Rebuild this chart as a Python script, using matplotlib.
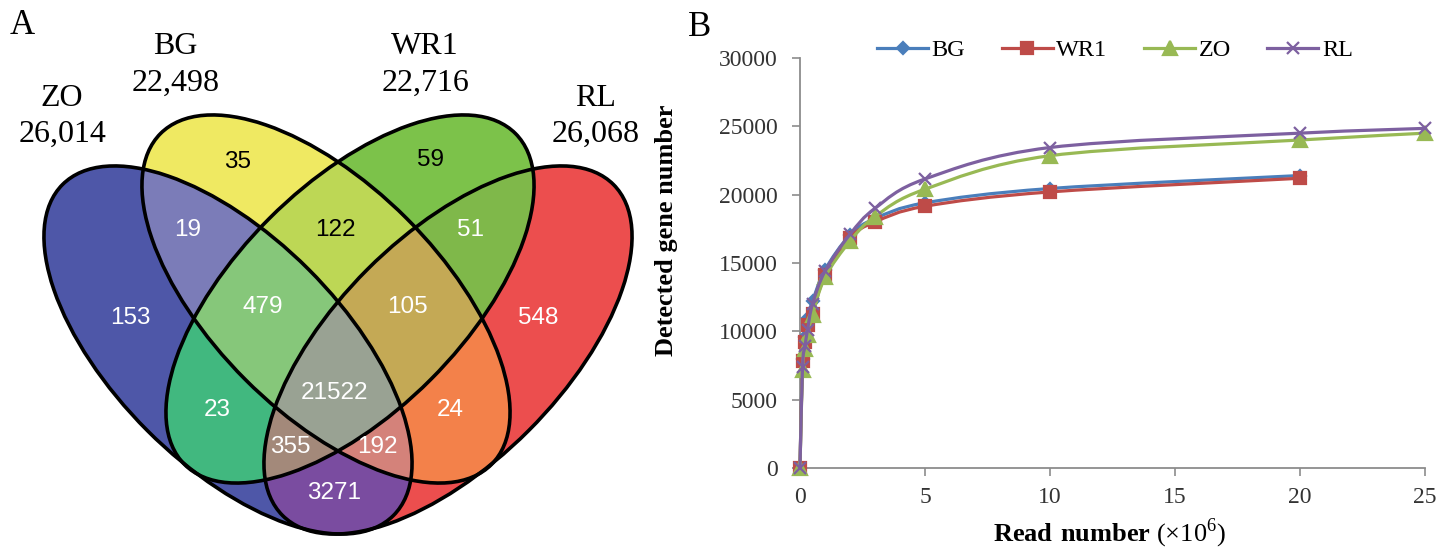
import numpy as np
import matplotlib
matplotlib.use("Agg")
import matplotlib.pyplot as plt
from matplotlib.patches import Ellipse, PathPatch
from matplotlib.path import Path
from matplotlib.lines import Line2D

plt.rcParams["mathtext.fontset"] = "custom"
plt.rcParams["mathtext.rm"] = "Liberation Serif"
plt.rcParams["mathtext.bf"] = "Liberation Serif:bold"

# ---- panel A data (Venn) ----
set_names = ["ZO", "BG", "WR1", "RL"]
set_totals = [26014, 22498, 22716, 26068]
region_sets = ["ZO", "BG", "WR1", "RL",
               "ZO+BG", "BG+WR1", "WR1+RL",
               "ZO+BG+WR1", "BG+WR1+RL", "ZO+WR1", "BG+RL",
               "ZO+BG+WR1+RL", "ZO+WR1+RL", "ZO+BG+RL", "ZO+RL"]
region_counts = [153, 35, 59, 548, 19, 122, 51, 479, 105, 23, 24, 21522, 355, 192, 3271]

# ---- panel B data (saturation curves) ----
reads_short = [0, 0.1, 0.2, 0.3, 0.5, 1, 2, 3, 5, 10, 20]
reads_long = [0, 0.1, 0.2, 0.3, 0.5, 1, 2, 3, 5, 10, 20, 25]
bg_genes = [0, 8000, 9600, 11000, 12200, 14500, 17050, 18250, 19400, 20450, 21400]
wr1_genes = [0, 7800, 9200, 10450, 11300, 14100, 16850, 18000, 19150, 20200, 21200]
zo_genes = [0, 7200, 8700, 9700, 11200, 13950, 16600, 18400, 20400, 22850, 24000, 24500]
rl_genes = [0, 7400, 8900, 10100, 12000, 14400, 17100, 19000, 21150, 23450, 24500, 24850]

# ---- styles ----
bits = {"ZO": 1, "BG": 2, "WR1": 4, "RL": 8}
region_colors = ["#4E57A8", "#EFEA62", "#7CC24A", "#EC4F4F",
                 "#7B7CB9", "#BDD855", "#7FB94A",
                 "#86C77A", "#C4A955", "#41B97F", "#F3814A",
                 "#9AA293", "#A38A7A", "#D5827A", "#7A4DA0"]
region_text = ["white", "black", "black", "white", "white", "black", "white",
               "white", "white", "white", "white", "white", "white", "white", "white"]
region_pos = [(130, 318), (238, 162), (430, 160), (538, 318),
              (188, 230), (335, 230), (470, 230),
              (263, 307), (407, 307), (217, 410), (450, 410),
              (334, 393), (290, 447), (377, 447), (334, 493)]
# ellipse centre x, centre y, angle (pixel layout of panel A)
ell = [(228, 350, 45), (326, 299, 45), (350, 299, 135), (448, 350, 135)]
ea, eb = 234, 114
name_pos = [(62, 98), (175, 47), (425, 47), (595, 98)]

fig = plt.figure(figsize=(14.55, 5.5), dpi=100)

# ---------------- panel A ----------------
axA = fig.add_axes([0, 0, 700 / 1455, 1])
xs = np.linspace(0, 700, 1400)
ys = np.linspace(0, 550, 1100)
X, Y = np.meshgrid(xs, ys)
code = np.zeros(X.shape, dtype=int)
for i, (cx, cy, ang) in enumerate(ell):
    t = np.deg2rad(ang)
    dx, dy = X - cx, Y - cy
    u = dx * np.cos(t) + dy * np.sin(t)
    v = -dx * np.sin(t) + dy * np.cos(t)
    code |= (((u / ea) ** 2 + (v / eb) ** 2) <= 1).astype(int) << i

lut = np.zeros((16, 4))
for name, col in zip(region_sets, region_colors):
    c = sum(bits[s] for s in name.split("+"))
    lut[c] = matplotlib.colors.to_rgba(col)
img = lut[code]
axA.imshow(img, extent=(0, 700, 550, 0), interpolation="antialiased")
for cx, cy, ang in ell:
    axA.add_patch(Ellipse((cx, cy), 2 * ea, 2 * eb, angle=ang, fill=False,
                          ec="black", lw=2.6))
for n, pos, col in zip(region_counts, region_pos, region_text):
    axA.text(pos[0], pos[1], str(n), ha="center", va="center", color=col,
             fontsize=17.5, family="Liberation Sans")
for name, tot, pos in zip(set_names, set_totals, name_pos):
    axA.text(pos[0], pos[1], name, ha="center", va="center",
             fontsize=23, family="Liberation Serif")
    axA.text(pos[0] + 1, pos[1] + 36, f"{tot:,}", ha="center", va="center",
             fontsize=23, family="Liberation Serif")
axA.text(22, 25, "A", ha="center", va="center", fontsize=25, family="Liberation Serif")
axA.set_xlim(0, 700)
axA.set_ylim(550, 0)
axA.axis("off")

# ---------------- panel B ----------------
def smooth(x, y):
    # Excel-like smoothed line (Catmull-Rom -> cubic Bezier)
    p = np.column_stack([x, y]).astype(float)
    pp = np.vstack([p[0], p, p[-1]])
    verts = [p[0]]
    codes = [Path.MOVETO]
    for k in range(1, len(pp) - 2):
        p0, p1, p2, p3 = pp[k - 1], pp[k], pp[k + 1], pp[k + 2]
        verts += [p1 + (p2 - p0) / 6, p2 - (p3 - p1) / 6, p2]
        codes += [Path.CURVE4] * 3
    return Path(verts, codes)

axB = fig.add_axes([800 / 1455, 1 - 468 / 550, 625 / 1455, 410 / 550])
series = [("BG", reads_short, bg_genes, "#4A7EBB", "D", 6),
          ("WR1", reads_short, wr1_genes, "#BE4B48", "s", 9),
          ("ZO", reads_long, zo_genes, "#98B954", "^", 10),
          ("RL", reads_long, rl_genes, "#7D60A0", "x", 9)]
handles = []
for name, x, y, col, mk, ms in series:
    axB.add_patch(PathPatch(smooth(x, y), fill=False, ec=col, lw=2.3,
                            clip_on=False, zorder=3))
    axB.plot(x, y, ls="none", marker=mk, ms=ms, color=col, mec=col, mew=1.6,
             clip_on=False, zorder=3)
    handles.append(Line2D([], [], color=col, lw=2.3, marker=mk, ms=ms, mew=1.6))

axB.set_xlim(0, 25)
axB.set_ylim(0, 30000)
axB.set_xticks(range(0, 26, 5))
axB.set_yticks(range(0, 30001, 5000))
for s in ["top", "right"]:
    axB.spines[s].set_visible(False)
for s in ["left", "bottom"]:
    axB.spines[s].set_color("#8C8C8C")
    axB.spines[s].set_linewidth(1.3)
axB.tick_params(direction="out", length=6, width=1.2, color="#8C8C8C",
                labelsize=17, labelcolor="#333333")
axB.tick_params(axis="y", pad=10)
axB.tick_params(axis="x", pad=8)
for lab in axB.get_xticklabels() + axB.get_yticklabels():
    lab.set_family("Liberation Serif")

fig.legend(handles, ["BG", "WR1", "ZO", "RL"], loc="center left",
           bbox_to_anchor=(877 / 1455, 1 - 50 / 550), ncol=4, frameon=False,
           handlelength=2.1, handletextpad=0.15, columnspacing=1.5,
           borderpad=0, borderaxespad=0,
           prop={"family": "Liberation Serif", "size": 17.5})

fig.text(667 / 1455, 1 - 230 / 550, "Detected gene number", rotation=90,
         ha="center", va="center", fontsize=19, fontweight="bold",
         family="Liberation Serif")
fig.text(1110 / 1455, 1 - 533 / 550, r"$\mathbf{Read\ number}$ (×10$^{6}$)",
         ha="center", va="center", fontsize=19, family="Liberation Serif")
fig.text(700 / 1455, 1 - 28 / 550, "B", ha="center", va="center",
         fontsize=25, family="Liberation Serif")

fig.savefig("out.png", dpi=100)
